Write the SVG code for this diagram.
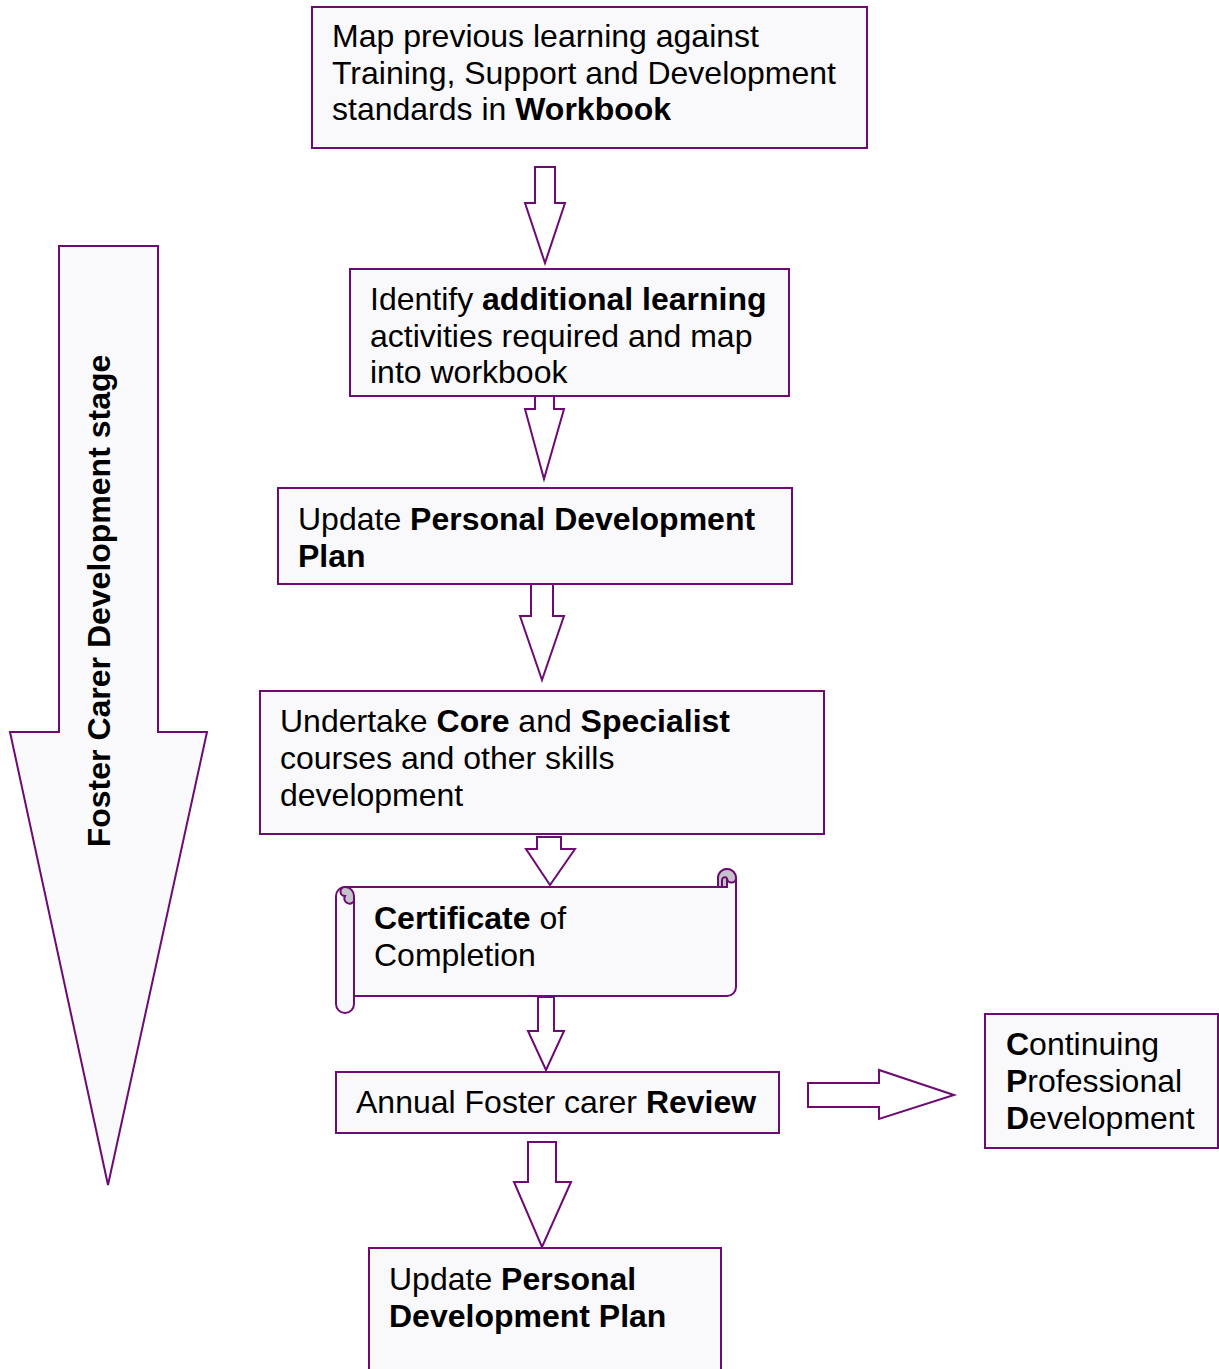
<svg xmlns="http://www.w3.org/2000/svg" width="1219" height="1369" viewBox="0 0 1219 1369">
<style>
.box{fill:#F9F9FC;stroke:#6E0A73;stroke-width:2}
.arr{fill:#FFFFFF;stroke:#6E0A73;stroke-width:2;stroke-linejoin:miter}
.big{fill:#FAFAFC;stroke:#6E0A73;stroke-width:2}
.curl{fill:#C4C2CA;stroke:#6E0A73;stroke-width:2}
.line{fill:none;stroke:#6E0A73;stroke-width:2}
text{font-family:"Liberation Sans",Arial,sans-serif;font-size:32px;fill:#000}
.b{font-weight:bold}
</style>
<rect width="1219" height="1369" fill="#FFFFFF"/>
<g id="stage-arrow">
<polygon class="big" points="59,246 158,246 158,732 207,732 108,1185 10,732 59,732"/>
<text class="b" transform="translate(110,601) rotate(-90)" text-anchor="middle">Foster Carer Development stage</text>
</g>
<g id="connectors">
<polygon class="arr" points="535,167 555,167 555,203 565,203 545,263 525,203 535,203"/>
<polygon class="arr" points="535,396 554,396 554,409 564,409 544,479 525,409 535,409"/>
<polygon class="arr" points="531,584 553,584 553,616 564,616 542,680 520,616 531,616"/>
<polygon class="arr" points="537,837 561,837 561,849 575,849 550,885 526,849 537,849"/>
<polygon class="arr" points="538,997 554,997 554,1031 564,1031 546,1070 528,1031 538,1031"/>
<polygon class="arr" points="808,1083 879,1083 879,1070 954,1095 879,1119 879,1107 808,1107"/>
<polygon class="arr" points="528,1142 556,1142 556,1182 571,1182 542,1247 514,1182 528,1182"/>
</g>
<g id="n1">
<rect class="box" x="312" y="7" width="555" height="141"/>
<text x="332" y="47">Map previous learning against</text>
<text x="332" y="84">Training, Support and Development</text>
<text x="332" y="120">standards in <tspan class="b">Workbook</tspan></text>
</g>
<g id="n2">
<rect class="box" x="350" y="269" width="439" height="127"/>
<text x="370" y="310">Identify <tspan class="b">additional learning</tspan></text>
<text x="370" y="347">activities required and map</text>
<text x="370" y="383">into workbook</text>
</g>
<g id="n3">
<rect class="box" x="278" y="488" width="514" height="96"/>
<text x="298" y="530">Update <tspan class="b">Personal Development</tspan></text>
<text class="b" x="298" y="567">Plan</text>
</g>
<g id="n4">
<rect class="box" x="260" y="691" width="564" height="143"/>
<text x="280" y="732">Undertake <tspan class="b">Core</tspan> and <tspan class="b">Specialist</tspan></text>
<text x="280" y="769">courses and other skills</text>
<text x="280" y="806">development</text>
</g>
<g id="n5">
<path class="box" d="M336,896 A9,9 0 0 1 345,887 L718,887 L718,878 A9,9 0 0 1 736,878 L736,987 A9,9 0 0 1 727,996 L354,996 L354,1004 A9,9 0 0 1 336,1004 Z"/>
<path class="curl" d="M727,887 L718,887 L718,878 A9,9 0 0 1 736,878 A4.5,4.5 0 0 1 727,878 Z"/>
<path class="line" d="M722,887 L722,880 A3,3 0 0 1 727,878"/>
<path class="curl" d="M345,887 A9,9 0 0 1 354,896 L354,901 A4.5,4.5 0 0 1 345,896 A4.5,4.5 0 0 1 345,887 Z"/>
<path class="line" d="M354,896 L354,996"/>
<text x="374" y="929"><tspan class="b">Certificate</tspan> of</text>
<text x="374" y="966">Completion</text>
</g>
<g id="n6">
<rect class="box" x="336" y="1072" width="443" height="61"/>
<text x="356" y="1113">Annual Foster carer <tspan class="b">Review</tspan></text>
</g>
<g id="n7">
<rect class="box" x="985" y="1014" width="233" height="134"/>
<text x="1006" y="1055"><tspan class="b">C</tspan>ontinuing</text>
<text x="1006" y="1092"><tspan class="b">P</tspan>rofessional</text>
<text x="1006" y="1129"><tspan class="b">D</tspan>evelopment</text>
</g>
<g id="n8">
<rect class="box" x="369" y="1248" width="352" height="140"/>
<text x="389" y="1290">Update <tspan class="b">Personal</tspan></text>
<text class="b" x="389" y="1327">Development Plan</text>
</g>
</svg>
